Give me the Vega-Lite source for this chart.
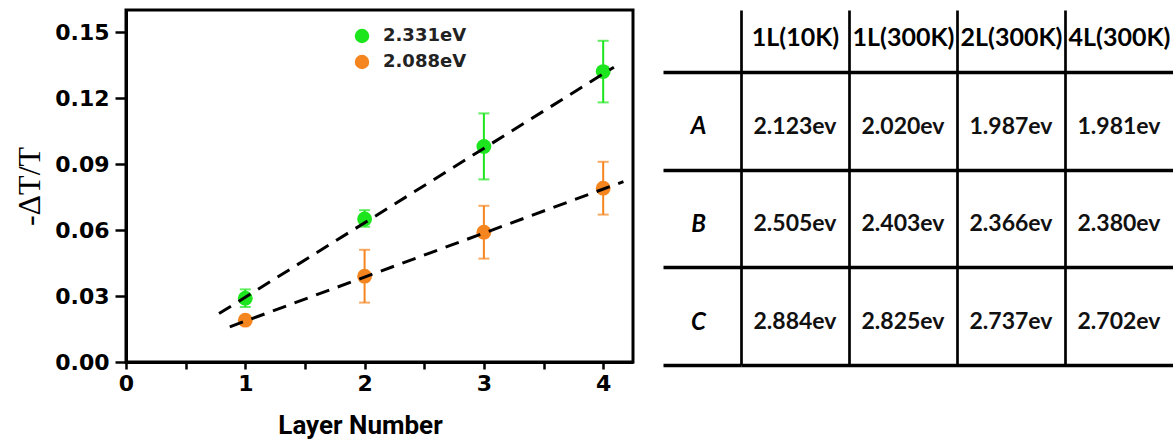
{
  "$schema": "https://vega.github.io/schema/vega-lite/v6.json",
  "background": "white",
  "padding": {"left": 12, "top": -2, "right": 0, "bottom": 0},
  "config": {"view": {"stroke": null}},
  "spacing": 26,
  "datasets": {
    "points": [
      {"series": "2.331eV", "layer": 1, "value": 0.029, "lo": 0.025, "hi": 0.033},
      {"series": "2.331eV", "layer": 2, "value": 0.065, "lo": 0.0615, "hi": 0.069},
      {"series": "2.331eV", "layer": 3, "value": 0.098, "lo": 0.083, "hi": 0.113},
      {"series": "2.331eV", "layer": 4, "value": 0.132, "lo": 0.118, "hi": 0.146},
      {"series": "2.088eV", "layer": 1, "value": 0.019, "lo": 0.0175, "hi": 0.0205},
      {"series": "2.088eV", "layer": 2, "value": 0.039, "lo": 0.027, "hi": 0.051},
      {"series": "2.088eV", "layer": 3, "value": 0.059, "lo": 0.047, "hi": 0.071},
      {"series": "2.088eV", "layer": 4, "value": 0.079, "lo": 0.067, "hi": 0.091}
    ],
    "fits": [
      {"series": "2.331eV", "layer": 0.78, "value": 0.022},
      {"series": "2.331eV", "layer": 4.09, "value": 0.134},
      {"series": "2.088eV", "layer": 0.87, "value": 0.016},
      {"series": "2.088eV", "layer": 4.17, "value": 0.082}
    ],
    "table": [
      {"row": "A", "col": "1L(10K)", "text": "2.123ev"},
      {"row": "A", "col": "1L(300K)", "text": "2.020ev"},
      {"row": "A", "col": "2L(300K)", "text": "1.987ev"},
      {"row": "A", "col": "4L(300K)", "text": "1.981ev"},
      {"row": "B", "col": "1L(10K)", "text": "2.505ev"},
      {"row": "B", "col": "1L(300K)", "text": "2.403ev"},
      {"row": "B", "col": "2L(300K)", "text": "2.366ev"},
      {"row": "B", "col": "4L(300K)", "text": "2.380ev"},
      {"row": "C", "col": "1L(10K)", "text": "2.884ev"},
      {"row": "C", "col": "1L(300K)", "text": "2.825ev"},
      {"row": "C", "col": "2L(300K)", "text": "2.737ev"},
      {"row": "C", "col": "4L(300K)", "text": "2.702ev"}
    ]
  },
  "hconcat": [
    {
      "width": 507,
      "height": 352,
      "view": {"stroke": "black", "strokeWidth": 3},
      "encoding": {
        "x": {
          "field": "layer", "type": "quantitative",
          "scale": {"domain": [0, 4.25], "nice": false, "zero": false},
          "axis": {
            "values": [0, 0.5, 1, 1.5, 2, 2.5, 3, 3.5, 4],
            "labelExpr": "datum.value % 1 === 0 ? format(datum.value, 'd') : ''",
            "tickSize": 7, "tickWidth": 2.5, "tickColor": "black",
            "domainColor": "black", "domainWidth": 3, "grid": false,
            "labelFont": "DejaVu Sans", "labelFontWeight": "bold", "labelFontSize": 22, "labelColor": "black",
            "labelPadding": 4, "labelFlush": false, "labelOverlap": false,
            "title": "Layer Number", "titleFont": "Roboto", "titleFontSize": 26,
            "titleFontWeight": "bold", "titleColor": "black",
            "titleX": 234, "titleY": 50, "titleBaseline": "top", "titleAnchor": "start", "titleAlign": "center"
          }
        }
      },
      "layer": [
        {
          "data": {"name": "points"},
          "transform": [{"filter": "datum.series === '2.331eV'"}],
          "mark": {"type": "errorbar", "color": "#1de51d", "ticks": {"size": 11, "thickness": 2}, "rule": {"strokeWidth": 2}},
          "encoding": {
            "y": {
              "field": "lo", "type": "quantitative", "title": "-ΔT/T",
              "scale": {"domain": [0, 0.16], "nice": false},
              "axis": {
                "values": [0, 0.015, 0.03, 0.045, 0.06, 0.075, 0.09, 0.105, 0.12, 0.135, 0.15],
                "labelExpr": "round(datum.value * 1000) % 30 === 0 ? format(datum.value, '.2f') : ''",
                "tickSize": {"condition": {"test": "round(datum.value * 1000) % 30 === 0", "value": 11}, "value": 6},
                "tickWidth": 2.5, "tickColor": "black",
                "domainColor": "black", "domainWidth": 3, "grid": false,
                "labelFont": "DejaVu Sans", "labelFontWeight": "bold", "labelFontSize": 22, "labelColor": "black",
                "labelPadding": 6, "labelFlush": false, "labelOverlap": false,
                "title": "-ΔT/T", "titleFont": "Liberation Serif", "titleFontSize": 32,
                "titleFontWeight": "normal", "titleColor": "black", "titlePadding": 8
              }
            },
            "y2": {"field": "hi"}
          }
        },
        {
          "data": {"name": "points"},
          "transform": [{"filter": "datum.series === '2.088eV'"}],
          "mark": {"type": "errorbar", "color": "#f5851f", "ticks": {"size": 11, "thickness": 2}, "rule": {"strokeWidth": 2}},
          "encoding": {
            "y": {"field": "lo", "type": "quantitative", "title": "-ΔT/T"},
            "y2": {"field": "hi"}
          }
        },
        {
          "data": {"name": "points"},
          "mark": {"type": "point", "filled": true, "size": 220, "opacity": 1},
          "encoding": {
            "y": {"field": "value", "type": "quantitative", "title": "-ΔT/T"},
            "color": {
              "field": "series", "type": "nominal",
              "scale": {"domain": ["2.331eV", "2.088eV"], "range": ["#1de51d", "#f5851f"]},
              "legend": {
                "orient": "none", "legendX": 227, "legendY": 17, "title": null,
                "symbolType": "circle", "symbolSize": 210, "symbolStrokeWidth": 0,
                "labelFont": "DejaVu Sans", "labelFontWeight": "bold", "labelFontSize": 18,
                "labelColor": "#222222", "labelOffset": 12, "rowPadding": 8, "padding": 0
              }
            }
          }
        },
        {
          "data": {"name": "fits"},
          "mark": {"type": "line", "color": "black", "strokeWidth": 3, "strokeDash": [14, 9]},
          "encoding": {
            "y": {"field": "value", "type": "quantitative", "title": "-ΔT/T"},
            "detail": {"field": "series"}
          }
        }
      ]
    },
    {
      "data": {"name": "table"},
      "width": 432,
      "height": 355,
      "mark": {"type": "text", "font": "Lato", "fontWeight": "bold", "fontSize": 23, "color": "#111111", "dy": 6},
      "encoding": {
        "x": {
          "field": "col", "type": "nominal",
          "sort": ["1L(10K)", "1L(300K)", "2L(300K)", "4L(300K)"],
          "scale": {"paddingInner": 0, "paddingOuter": 0},
          "axis": {
            "orient": "top", "title": null, "tickBand": "extent",
            "ticks": false, "tickSize": 0, "domain": false,
            "grid": true, "gridColor": "black", "gridWidth": 2.7,
            "gridOpacity": {"condition": {"test": "datum.value === '4L(300K)'", "value": 0}, "value": 1},
            "labelFont": "Lato", "labelFontWeight": "bold", "labelFontSize": 25, "labelColor": "black",
            "labelPadding": -27, "labelBaseline": "middle", "labelAngle": 0
          }
        },
        "y": {
          "field": "row", "type": "nominal",
          "sort": ["A", "B", "C"],
          "scale": {"paddingInner": 0, "paddingOuter": 0.3174, "align": 1},
          "axis": {
            "title": null, "tickBand": "extent", "tickSize": 78, "tickWidth": 3.5, "tickColor": "black",
            "domain": false, "grid": true, "gridColor": "black", "gridWidth": 3.5, "gridOpacity": 1,
            "labelFont": "Lato", "labelFontStyle": "italic", "labelFontWeight": "bold", "labelFontSize": 24,
            "labelAlign": "center", "labelPadding": -35, "labelOffset": 6, "labelColor": "black"
          }
        },
        "text": {"field": "text"}
      }
    }
  ]
}
